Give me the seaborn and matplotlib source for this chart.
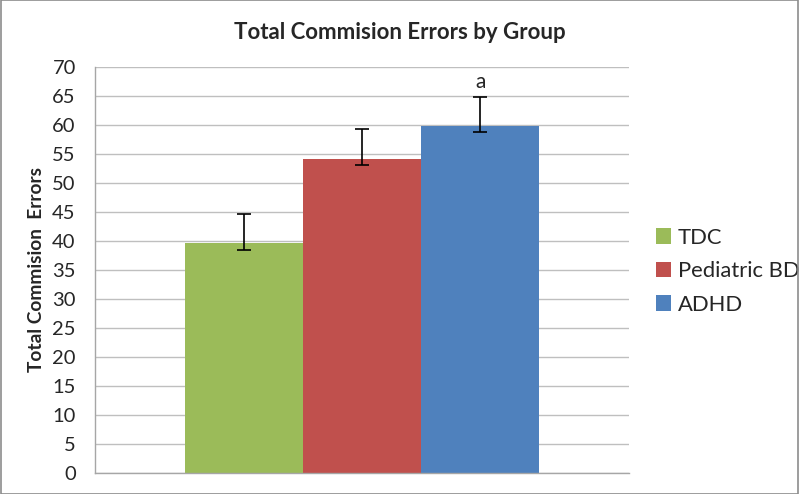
import matplotlib
matplotlib.use("Agg")
import matplotlib.pyplot as plt
import seaborn as sns
import pandas as pd
import numpy as np
from matplotlib.patches import Rectangle

groups = ["TDC", "Pediatric BD", "ADHD"]
means = [39.7, 54.1, 59.8]
err_low = [38.45, 53.1, 58.85]
err_high = [44.65, 59.25, 64.9]
colors = ["#9BBB59", "#C0504D", "#4F81BD"]
yticks = list(range(0, 75, 5))
annotation = "a"

sns.set_theme(style="white")
plt.rcParams["font.family"] = ["Lato", "DejaVu Sans"]

df = pd.DataFrame({"cat": [""] * 3, "group": groups, "value": means})

fig = plt.figure(figsize=(8, 4.94), dpi=100)
ax = fig.add_axes([0.119, 0.0425, 0.667, 0.822])
sns.barplot(data=df, x="cat", y="value", hue="group", hue_order=groups,
            palette=colors, width=0.665, saturation=1, ax=ax, errorbar=None,
            legend=True)
ax.set_xlim(-0.5, 0.5)

for p in ax.patches:
    p.set_edgecolor("none")

bars = [p for p in ax.patches if p.get_height() > 0][:3]
for b, m, lo, hi in zip(bars, means, err_low, err_high):
    cx = b.get_x() + b.get_width() / 2
    ax.errorbar([cx], [m], yerr=[[m - lo], [hi - m]], fmt="none",
                ecolor="black", elinewidth=1.2, capsize=5, capthick=1.2, zorder=5)

cx = bars[2].get_x() + bars[2].get_width() / 2
ax.text(cx, err_high[2] + 0.7, annotation, ha="center", va="bottom", fontsize=15)

ax.set_ylim(0, 70)
ax.set_yticks(yticks)
ax.set_yticklabels([str(t) for t in yticks], fontsize=14.5)
ax.tick_params(axis="y", length=0, pad=14)
ax.tick_params(axis="x", length=0)
ax.set_xlabel("")
ax.set_xticklabels([""])
ax.set_ylabel("Total Commision  Errors", fontsize=13.8, fontweight="bold", labelpad=5)
ax.yaxis.grid(True, color="#BFBFBF", linewidth=1)
ax.set_axisbelow(True)
for s in ["top", "right"]:
    ax.spines[s].set_visible(False)
for s in ["left", "bottom"]:
    ax.spines[s].set_color("#A6A6A6")
    ax.spines[s].set_linewidth(1)

fig.suptitle("Total Commision Errors by Group", x=0.5, y=0.955,
             fontsize=16, fontweight="bold")

leg = ax.legend(loc="center left", bbox_to_anchor=(1.034, 0.497), frameon=False,
                fontsize=15.8, handlelength=0.7, handleheight=0.7,
                handletextpad=0.3, labelspacing=0.62, borderaxespad=0)

fig.patches.append(Rectangle((0.001, 0.0), 0.997, 0.999, transform=fig.transFigure,
                             fill=False, edgecolor="#8C8C8C", linewidth=1.2))

fig.savefig("out.png", dpi=100)
